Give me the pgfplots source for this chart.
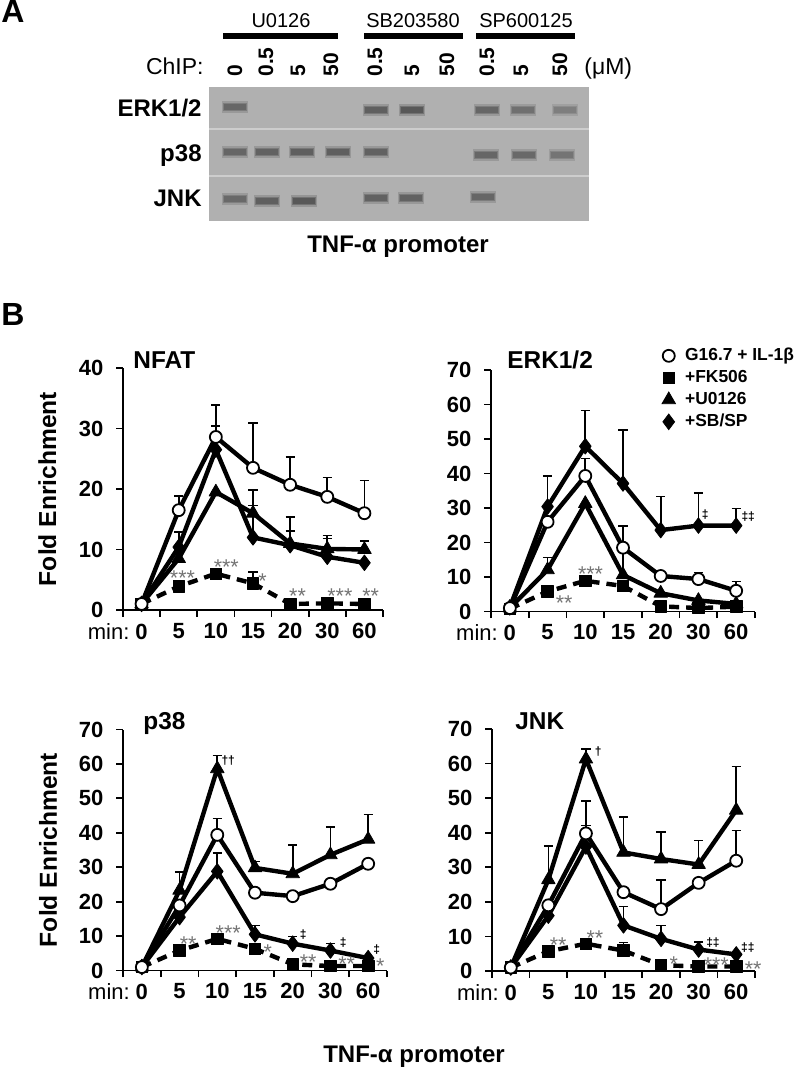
\documentclass[border=0pt]{standalone}
\usepackage{fontspec}
\setmainfont{Liberation Sans}
\usepackage{pgfplots}
\usepackage{pgfplotstable}
\pgfplotsset{compat=1.18}

\newcommand{\fsz}[2]{\fontsize{#1}{#2}\selectfont}
\definecolor{gelbg}{RGB}{176,176,176}
\definecolor{gelline}{RGB}{205,205,205}
\definecolor{stargray}{RGB}{115,115,115}

\pgfdeclareplotmark{band}{%
  \pgfsetfillopacity{0.3}%
  \pgfpathrectangle{\pgfpoint{-6.6pt}{-2.8pt}}{\pgfpoint{13.2pt}{5.6pt}}\pgfusepathqfill
  \pgfsetfillopacity{0.55}%
  \pgfpathrectangle{\pgfpoint{-6.1pt}{-2.1pt}}{\pgfpoint{12.2pt}{4.2pt}}\pgfusepathqfill
  \pgfsetfillopacity{1}%
  \pgfpathrectangle{\pgfpoint{-5.6pt}{-1.4pt}}{\pgfpoint{11.2pt}{2.8pt}}\pgfusepathqfill
}

\pgfplotstableread{
x c cE s sE t tE d dE
0 1.0 0 1.0 0 1.0 0 1.0 0
1 16.5 2.3 3.9 0 8.5 0 10.4 2.5
2 28.6 5.3 6.0 0 19.5 0 26.5 3.9
3 23.5 7.4 4.4 1.9 16.0 3.8 12.0 5.3
4 20.7 4.6 1.0 0 11.0 4.4 10.7 2.4
5 18.7 3.2 1.1 0 10.1 2.2 8.8 3.0
6 16.0 5.4 1.0 0 10.0 1.4 7.8 0
}\nfat
\pgfplotstableread{
x c cE s sE t tE d dE
0 1.0 0 0.8 0 1.0 0 1.2 0
1 26.0 0 5.8 0 12.1 3.6 30.4 8.9
2 39.3 5.1 8.9 0 31.3 0 47.9 10.4
3 18.5 6.3 7.4 0 10.6 6.8 37.1 15.6
4 10.3 0 1.5 0 5.3 0 23.6 9.7
5 9.4 1.9 1.0 0 3.2 0 24.9 9.5
6 6.0 2.7 1.4 0 2.2 0 24.9 5.0
}\erk
\pgfplotstableread{
x c cE s sE t tE d dE
0 1.0 0 1.0 0 1.0 0 1.0 0
1 18.9 0 5.8 0 23.3 5.3 15.5 0
2 39.4 4.7 9.2 0 58.6 3.9 28.8 5.3
3 22.6 0 6.3 0 29.8 1.9 10.5 2.6
4 21.6 0 1.8 0 28.1 8.4 7.8 2.1
5 25.2 0 1.3 0 33.6 8.1 5.8 2.1
6 31.0 0 1.3 0 38.1 7.2 3.6 0
}\pthree
\pgfplotstableread{
x c cE s sE t tE d dE
0 1.0 0 1.0 0 1.0 0 1.0 0
1 19.0 0 5.7 0 26.4 9.7 16.0 0
2 39.8 9.3 7.9 0 61.3 2.9 36.0 6.1
3 22.8 0 5.9 2.4 34.3 10.2 13.2 5.5
4 17.9 8.5 1.7 0 32.4 7.8 9.3 3.9
5 25.5 0 1.3 0 30.8 6.9 6.2 2.2
6 31.9 8.7 1.3 0 46.5 12.7 4.8 0
}\jnk
\pgfplotstableread{
x y i
235 107 0.8
376 110 0.9
412 110 1.0
487 110 0.8
523 110 0.65
565 110 0.45
235 152 0.8
267 152 0.85
302 152 0.9
338 152 0.9
376 152 0.85
486 155 0.8
524 155 0.75
562 155 0.6
235 199 0.75
267 201 0.9
304 201 1.0
376 198 0.85
411 198 0.85
483 197 0.8
}\bands

\tikzset{
  star/.style={font=\fsz{10.7pt}{12pt}, text=stargray, inner sep=0pt, yshift=-2.3pt},
  dag/.style={font=\bfseries\fsz{6pt}{7pt}, inner sep=0pt},
  ttl/.style={anchor=base west, inner sep=0pt, font=\bfseries\fsz{12.2pt}{14pt}},
}
\pgfplotsset{
  ln/.style={black, line width=2.2pt, line join=round, forget plot},
  ci/.style={ln, mark=*, mark size=3pt, mark options={solid, fill=white, draw=black, line width=0.9pt}},
  sq/.style={ln, dash pattern=on 5pt off 3.5pt, mark=square*, mark size=2.9pt, mark options={solid, line width=0.4pt}},
  tr/.style={ln, mark=triangle*, mark size=3.9pt, mark options={solid, line width=0.4pt}},
  di/.style={ln, mark=diamond*, mark size=3.9pt, mark options={solid, line width=0.4pt}},
  fe/.style={
    scale only axis, clip=false,
    xmin=-0.5, xmax=6.5, ymin=0,
    axis x line*=bottom, axis y line*=left,
    axis line style={line width=0.9pt, black},
    tick align=outside,
    major tick length=3.3pt,
    xtick={-0.5,0.5,...,6.5},
    xticklabel={\hbox{}},
    extra x ticks={0,...,6},
    extra x tick labels={\makebox[0pt][r]{\mdseries min:\hspace{3pt}}0,5,10,15,20,30,60},
    extra x tick style={major tick length=0pt, tick style={draw=none}},
    tick style={line width=0.9pt, black},
    tick label style={font=\bfseries\fsz{11pt}{13pt}},
    /pgf/number format/assume math mode=true,
    xticklabel style={yshift=-3pt},
    yticklabel style={xshift=-3pt},
    ylabel style={font=\bfseries\fsz{12.3pt}{14pt}},
  },
}

\newcommand{\errs}[3]{\addplot[draw=none, mark=none, forget plot, error bars/.cd, y dir=plus, y explicit, error bar style={draw=black, line width=0.8pt, solid}, error mark options={rotate=90, draw=black, line width=0.8pt, mark size=2.3pt, solid}] table[x=x, y=#2, y error=#3] {#1};}
\newcommand{\series}[1]{%
  \errs{#1}{c}{cE}\errs{#1}{s}{sE}\errs{#1}{t}{tE}\errs{#1}{d}{dE}%
  \addplot[sq] table[x=x,y=s] {#1};
  \addplot[di] table[x=x,y=d] {#1};
  \addplot[tr] table[x=x,y=t] {#1};
  \addplot[ci] table[x=x,y=c] {#1};
}

\begin{document}
\begin{tikzpicture}
% ---------------- Panel A ----------------
\node[anchor=base west, inner sep=0pt, font=\bfseries\fsz{16pt}{18pt}] at (0.5pt,-11.5pt) {A};
\node[anchor=base, inner sep=0pt, font=\fsz{10pt}{12pt}] at (140.5pt,-14pt) {U0126};
\node[anchor=base, inner sep=0pt, font=\fsz{10pt}{12pt}] at (206.5pt,-14pt) {SB203580};
\node[anchor=base, inner sep=0pt, font=\fsz{10pt}{12pt}] at (263pt,-14pt) {SP600125};
\fill[black] (111.5pt,-16.5pt) rectangle (169pt,-19.5pt);
\fill[black] (182pt,-16.5pt) rectangle (231.5pt,-19.5pt);
\fill[black] (238pt,-16.5pt) rectangle (287.5pt,-19.5pt);
\node[anchor=base east, inner sep=0pt, font=\fsz{11.5pt}{13pt}] at (102pt,-37.5pt) {ChIP:};
\node[anchor=base west, inner sep=0pt, font=\fsz{11.5pt}{13pt}] at (292pt,-37.5pt) {(μM)};
\foreach \xx/\lab in {117.5/0, 133/0.5, 149/5, 165.5/50, 187.5/0.5, 206/5, 223.5/50, 243.5/0.5, 260.5/5, 280/50}{
  \node[rotate=90, anchor=west, inner sep=0pt, font=\bfseries\fsz{10.5pt}{12pt}] at (\xx pt,-38.5pt) {\lab};
}
\node[anchor=base east, inner sep=0pt, font=\bfseries\fsz{12pt}{14pt}] at (101pt,-58.5pt) {ERK1/2};
\node[anchor=base east, inner sep=0pt, font=\bfseries\fsz{12pt}{14pt}] at (101pt,-81pt) {p38};
\node[anchor=base east, inner sep=0pt, font=\bfseries\fsz{12pt}{14pt}] at (101pt,-103.5pt) {JNK};
\node[anchor=base, inner sep=0pt, font=\bfseries\fsz{12pt}{14pt}] at (199pt,-126.5pt) {TNF-α promoter};

\begin{axis}[at={(104.5pt,-110.5pt)}, anchor=south west, scale only axis, width=190pt, height=67pt,
  xmin=209, xmax=589, ymin=87, ymax=221, y dir=reverse, hide axis, clip=true,
  colormap={gel}{rgb255=(158,158,158) rgb255=(88,88,88)}, point meta min=0, point meta max=1]
\fill[gelbg] (rel axis cs:0,0) rectangle (rel axis cs:1,1);
\draw[gelline, line width=1pt] (axis cs:209,129) -- (axis cs:589,129);
\draw[gelline, line width=1pt] (axis cs:209,176) -- (axis cs:589,176);
\addplot[scatter, only marks, mark=band, point meta=explicit, scatter/use mapped color={draw=none, fill=mapped color}] table[x=x, y=y, meta=i] {\bands};
\end{axis}

% ---------------- Panel B ----------------
\node[anchor=base west, inner sep=0pt, font=\bfseries\fsz{16pt}{18pt}] at (0.5pt,-163pt) {B};

% NFAT
\begin{axis}[fe, at={(61.5pt,-305pt)}, anchor=south west, width=130pt, height=121pt,
  ymax=40, ytick={0,10,...,40},
  ylabel={Fold Enrichment}, ylabel style={at={(axis description cs:-0.291,0.5)}, anchor=center}]
\series{\nfat}
\node[ttl] at (rel axis cs:0,1) [xshift=5pt] {NFAT};
\node[star] at (axis cs:1.10,6.1) {***};
\node[star] at (axis cs:2.28,7.9) {***};
\node[star] at (axis cs:3.26,5.5) {*};
\node[star] at (axis cs:4.2,3.1) {**};
\node[star] at (axis cs:5.34,3.1) {***};
\node[star] at (axis cs:6.17,3.1) {**};
\end{axis}

% ERK1/2
\begin{axis}[fe, at={(245.5pt,-305.75pt)}, anchor=south west, width=132pt, height=120.75pt,
  ymax=70, ytick={0,10,...,70},
  legend style={at={(axis description cs:0.640,1.106)}, anchor=north west, draw=none, fill=none,
    font=\bfseries\fsz{8.7pt}{11pt}, inner sep=0pt, row sep=0pt,
    nodes={inner sep=1pt, text height=7pt, text depth=2pt}},
  legend cell align=left,
  legend image code/.code={\draw[#1] plot coordinates {(4pt,0pt)}; \path (0pt,0pt) (11pt,0pt);}]
\series{\erk}
\addlegendimage{mark=*, mark size=3pt, mark options={fill=white, draw=black, line width=0.9pt}}
\addlegendentry{G16.7 + IL-1β}
\addlegendimage{mark=square*, mark size=2.9pt, black}
\addlegendentry{+FK506}
\addlegendimage{mark=triangle*, mark size=3.9pt, black}
\addlegendentry{+U0126}
\addlegendimage{mark=diamond*, mark size=3.9pt, black}
\addlegendentry{+SB/SP}
\node[ttl] at (rel axis cs:0,1) [xshift=8pt, yshift=1pt] {ERK1/2};
\node[star] at (axis cs:1.44,3.9) {**};
\node[star] at (axis cs:2.14,12.1) {***};
\node[dag] at (axis cs:5.18,28) {‡};
\node[dag] at (axis cs:6.32,27.5) {‡‡};
\end{axis}

% p38
\begin{axis}[fe, at={(61.5pt,-485.25pt)}, anchor=south west, width=132pt, height=120.5pt,
  ymax=70, ytick={0,10,...,70},
  ylabel={Fold Enrichment}, ylabel style={at={(axis description cs:-0.284,0.5)}, anchor=center}]
\series{\pthree}
\node[ttl] at (rel axis cs:0,1) [xshift=10pt] {p38};
\node[dag] at (axis cs:2.29,61) {††};
\node[dag] at (axis cs:4.28,10.4) {‡};
\node[dag] at (axis cs:5.34,8.0) {‡};
\node[dag] at (axis cs:6.23,6.0) {‡};
\node[star] at (axis cs:1.23,8.9) {**};
\node[star] at (axis cs:2.29,12.1) {***};
\node[star] at (axis cs:3.34,6.8) {*};
\node[star] at (axis cs:4.41,3.9) {**};
\node[star] at (axis cs:5.43,3.1) {**};
\node[star] at (axis cs:6.32,2.5) {*};
\end{axis}

% JNK
\begin{axis}[fe, at={(246pt,-485.5pt)}, anchor=south west, width=131.5pt, height=121pt,
  ymax=70, ytick={0,10,...,70}]
\series{\jnk}
\node[ttl] at (rel axis cs:0,1) [xshift=11.5pt] {JNK};
\node[dag] at (axis cs:2.33,63.5) {†};
\node[dag] at (axis cs:5.38,8.3) {‡‡};
\node[dag] at (axis cs:6.31,6.8) {‡‡};
\node[star] at (axis cs:1.26,8.8) {**};
\node[star] at (axis cs:2.24,10.8) {**};
\node[star] at (axis cs:4.34,3.2) {*};
\node[star] at (axis cs:5.47,2.9) {***};
\node[star] at (axis cs:6.45,1.9) {**};
\end{axis}

\node[anchor=base, inner sep=0pt, font=\bfseries\fsz{12pt}{14pt}] at (207pt,-531pt) {TNF-α promoter};

\pgfresetboundingbox
\path[use as bounding box] (0pt,0pt) rectangle (400pt,-534.5pt);
\end{tikzpicture}
\end{document}
